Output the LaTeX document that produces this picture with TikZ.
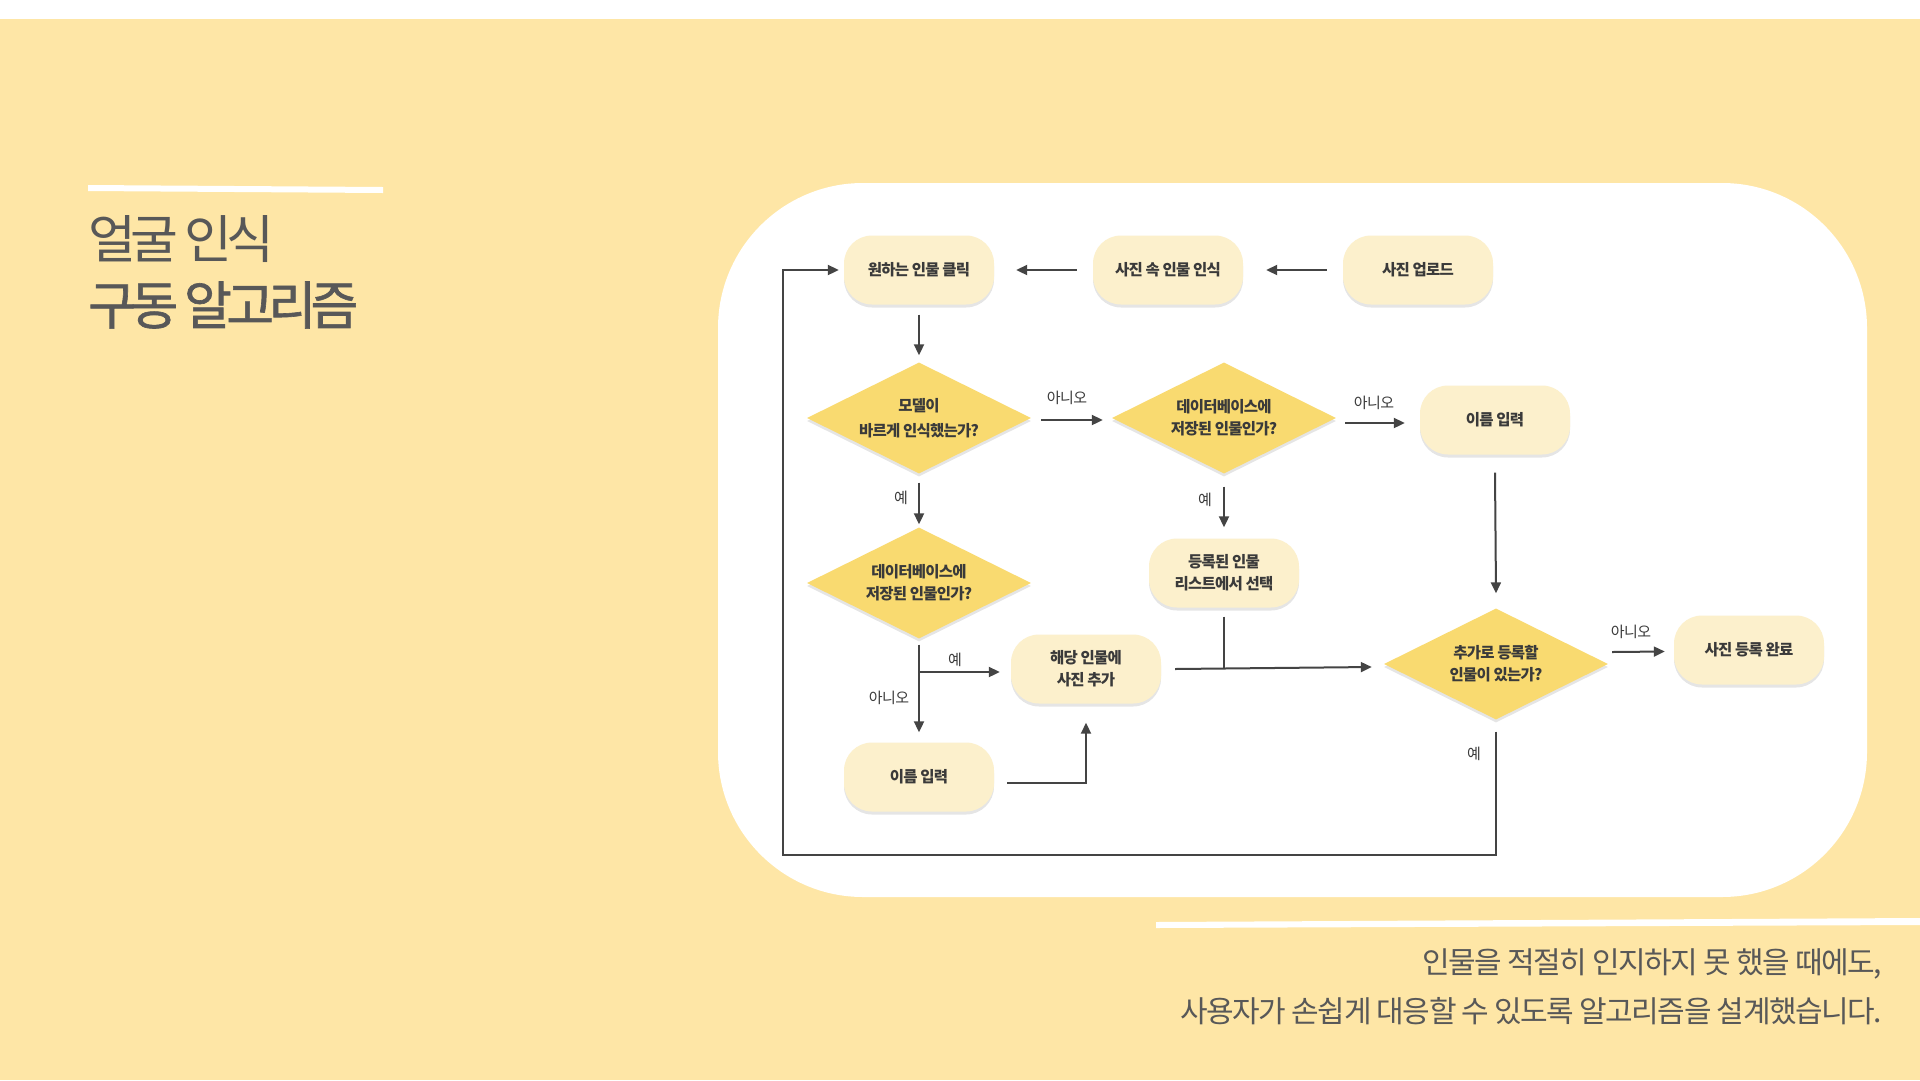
\documentclass[tikz,border=0pt]{standalone}
\usepackage{fontspec}
\setmainfont{Noto Sans CJK KR}
\newfontfamily\titlefont[LetterSpace=-11]{Noto Sans CJK KR}
\newfontfamily\titleboldfont[LetterSpace=-11,FakeBold=1.2]{Noto Sans CJK KR}
\newfontfamily\boxfont[LetterSpace=-5]{Noto Sans CJK KR}
\newfontfamily\labfont[LetterSpace=-4]{Noto Sans CJK KR}
\newfontfamily\notefont[LetterSpace=-5]{Noto Sans CJK KR}
\usetikzlibrary{shapes.geometric,arrows.meta,shadows}
\definecolor{bgc}{RGB}{254,230,166}
\definecolor{nodefill}{RGB}{252,240,204}
\definecolor{diafill}{RGB}{249,218,112}
\definecolor{txt}{RGB}{58,58,58}
\definecolor{linec}{RGB}{68,68,68}
\definecolor{titlec}{RGB}{88,88,88}
\begin{document}
\begin{tikzpicture}[x=1pt,y=-1pt,
  shad/.style={drop shadow={shadow xshift=0pt,shadow yshift=-3pt,opacity=0.10,fill=black}},
  box/.style={fill=nodefill, rounded corners=28pt, minimum width=150pt, minimum height=69pt,
    inner sep=0pt, align=center, text=txt, shad,
    font=\boxfont\bfseries\fontsize{15.5}{22}\selectfont},
  dia/.style={diamond, aspect=2, fill=diafill, minimum width=224pt, minimum height=111pt,
    inner sep=0pt, align=center, text=txt, shad,
    font=\boxfont\bfseries\fontsize{15.5}{22}\selectfont},
  lab/.style={font=\labfont\fontsize{15}{18}\selectfont, text=txt, inner sep=0pt},
  arr/.style={draw=linec, line width=2pt, -{Triangle[length=11pt,width=10pt]}},
  ln/.style={draw=linec, line width=2pt},
  ttl/.style={font=\titlefont\fontsize{52}{60}\selectfont, text=titlec, inner sep=0pt, anchor=base west},
  note/.style={font=\notefont\fontsize{30}{36}\selectfont, text=titlec, inner sep=0pt, anchor=base east}]

% background
\fill[bgc] (0,0) rectangle (1920,1080);
\fill[white] (0,0) rectangle (1920,19);
\useasboundingbox (0,0) rectangle (1920,1080);

% decorative white bars
\fill[white] (88,185) -- (383,187) -- (383,193) -- (88,191) -- cycle;
\fill[white] (1156,922) -- (1920,918) -- (1920,925) -- (1156,928) -- cycle;

% titles
\node[ttl] (t1) at (88,258.5) {얼굴 인식};
\node[ttl, font=\titleboldfont\fontsize{52}{60}\selectfont] (t2) at (88,324.5) {구동 알고리즘};

% bottom note
\node[note] (n1) at (1882,973) {인물을 적절히 인지하지 못 했을 때에도,};
\node[note] (n2) at (1882,1022.5) {사용자가 손쉽게 대응할 수 있도록 알고리즘을 설계했습니다.};

% card
\fill[white, rounded corners=145pt] (718,183) rectangle (1867,897);

% nodes
\node[box] (click) at (919,270) {원하는 인물 클릭};
\node[box] (rec) at (1168,270) {사진 속 인물 인식};
\node[box] (up) at (1418,270) {사진 업로드};
\node[dia, font=\boxfont\bfseries\fontsize{15.5}{25}\selectfont] (d1) at (919,418) {모델이\\바르게 인식했는가?};
\node[dia] (d2) at (1224,418) {데이터베이스에\\저장된 인물인가?};
\node[box] (name1) at (1495,420) {이름 입력};
\node[dia] (d3) at (919,583) {데이터베이스에\\저장된 인물인가?};
\node[box] (reg) at (1224,573) {등록된 인물\\리스트에서 선택};
\node[box] (add) at (1086,669) {해당 인물에\\사진 추가};
\node[box] (name2) at (919,777) {이름 입력};
\node[dia] (d4) at (1496,664) {추가로 등록할\\인물이 있는가?};
\node[box] (done) at (1749,650) {사진 등록 완료};

% connectors
\draw[arr] ([xshift=-16pt]up.west) -- ([xshift=23pt]rec.east);
\draw[arr] ([xshift=-16pt]rec.west) -- ([xshift=22pt]click.east);
\draw[arr] ([yshift=-10pt]click.south) -- ([yshift=7pt]d1.north);
\draw[arr] ([xshift=10pt,yshift=-2pt]d1.east) -- ([xshift=-9pt,yshift=-2pt]d2.west);
\draw[arr] ([xshift=9pt,yshift=-5pt]d2.east) -- ([xshift=-15pt,yshift=-3pt]name1.west);
\draw[arr] ([yshift=-9pt]d1.south) -- ([yshift=3pt]d3.north);
\draw[arr] ([yshift=-13pt]d2.south) -- ([yshift=11pt]reg.north);
\coordinate (j1) at (1224,668);
\draw[ln] ([yshift=-9pt]reg.south) -- (j1);
\draw[arr] ([xshift=14pt]add.east) -- ([xshift=-12pt,yshift=-3pt]d4.west);
\draw[arr] ([yshift=-6pt]d3.south) -- ([yshift=10pt]name2.north);
\coordinate (br) at (919,672);
\draw[arr, shorten >=11pt] (br) -- (br -| add.west);
\draw[arr] ([xshift=13pt,yshift=-6pt]name2.east) -| ([yshift=-19pt]add.south);
\draw[arr] ([yshift=-18pt]name1.south) -- ([yshift=15pt]d4.north);
\draw[arr] ([xshift=4pt,yshift=12pt]d4.east) -- ([xshift=-9pt,yshift=-1.5pt]done.west);
\coordinate (lp1) at (1496,855);
\coordinate (lp2) at (783,855);
\coordinate (lp3) at (783,270);
\draw[arr] ([yshift=-12pt]d4.south) -- (lp1) -- (lp2) -- (lp3) -- ([xshift=-5pt]click.west);

% labels
\node[lab] (l1) at (1067,398) {아니오};
\node[lab] (l2) at (1374,403) {아니오};
\node[lab] (l3) at (901,498) {예};
\node[lab] (l4) at (1205,500) {예};
\node[lab] (l5) at (955,660) {예};
\node[lab] (l6) at (889,698) {아니오};
\node[lab] (l7) at (1631,632) {아니오};
\node[lab] (l8) at (1474,754) {예};
\end{tikzpicture}
\end{document}
